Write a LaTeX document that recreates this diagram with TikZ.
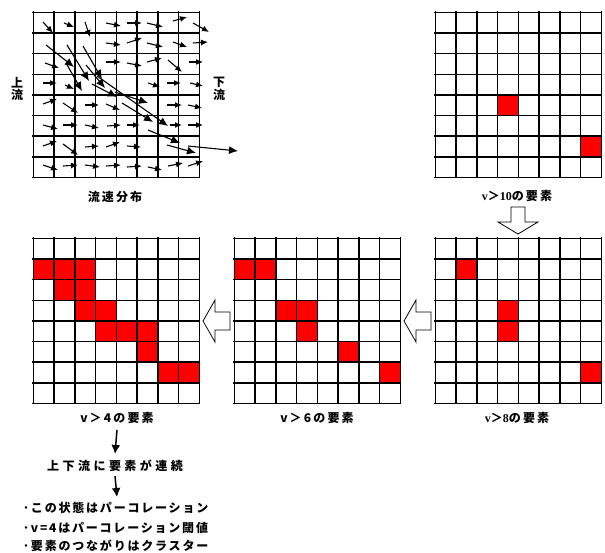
\documentclass[tikz,border=0pt]{standalone}
\usepackage{fontspec}
\setmainfont{Liberation Serif}
\newfontfamily\jp{Noto Sans CJK JP}
\usetikzlibrary{arrows.meta}
\newcommand\cellgrid[2]{%
  \foreach \i in {0,...,8} {%
    \draw[gridline] (#1+\i*20.75+0.3,#2) -- ++(0,165.2);
    \draw[gridline] (#1,#2+\i*20.65+0.3) -- ++(166,0);
  }}
\newcommand\redcells[3]{%
  \foreach \r/\c in {#3} {\fill[red] (#1+\c*20.75,#2+\r*20.65) rectangle ++(20.75,20.65);}}
\begin{document}
\begin{tikzpicture}[x=1pt,y=-1pt,
  gridline/.style={line width=1.5pt, black, line cap=rect},
  flow/.style={line width=1.1pt, -{Latex[length=7pt,width=6pt]}},
  flowlong/.style={line width=1.1pt, -{Latex[length=9pt,width=8pt]}},
  lbl/.style={font=\jp\bfseries\fontsize{12}{14}\selectfont\addfontfeature{LetterSpace=18}, inner sep=1pt},
  side/.style={font=\jp\bfseries\fontsize{12}{12.5}\selectfont, align=center, inner sep=0pt},
  block/.style={draw=black, line width=0.8pt, fill=white, line join=miter},
  smallarrow/.style={line width=1.5pt, -{Latex[length=9pt,width=9pt]}},
  frame/.style={minimum width=166pt, minimum height=165pt, inner sep=0pt, anchor=north west}
]
\useasboundingbox[fill=white] (0,0) rectangle (605,552);

% frames
\node[frame] (g1) at (33,12) {};
\node[frame] (g2) at (435,12) {};
\node[frame] (g3) at (33,238) {};
\node[frame] (g4) at (234,238) {};
\node[frame] (g5) at (435,238) {};

% red cells
\redcells{435}{12}{4/3,6/7}
\redcells{435}{238}{1/1,3/3,4/3,6/7}
\redcells{234}{238}{1/0,1/1,3/2,3/3,4/3,5/5,6/7}
\redcells{33}{238}{1/0,1/1,1/2,2/1,2/2,3/2,3/3,4/3,4/4,4/5,5/5,6/6,6/7}

% grids
\cellgrid{33}{12}
\cellgrid{435}{12}
\cellgrid{33}{238}
\cellgrid{234}{238}
\cellgrid{435}{238}

% flow field arrows
\foreach \a/\b/\c/\d in {
  43/22/53/33, 64/23/74/27, 85/22/90/37, 106/23/121/26, 127/23/142/23, 147/23/163/27, 173/21/187/17, 193/23/209/32,
  106/43/121/45, 127/43/142/38, 147/43/163/47, 173/42/187/47, 193/43/208/42,
  45/63/59/68, 106/62/121/62, 127/63/142/66, 147/62/162/58, 168/60/182/72, 189/62/203/62,
  43/83/57/83, 65/85/74/89, 148/83/160/87, 167/83/181/83, 190/83/203/86,
  43/104/57/99, 63/103/78/113, 85/105/99/105, 106/104/120/110, 167/105/182/105, 188/105/202/108,
  43/125/58/129, 63/125/78/125, 85/125/99/128, 107/126/121/125, 127/125/140/125, 170/125/182/125, 188/125/203/125,
  43/146/57/141, 63/144/78/155, 85/147/99/146, 106/147/120/142, 127/146/141/147,
  43/165/58/170, 63/166/78/165, 85/165/100/167, 106/166/121/165, 127/167/142/166, 148/167/162/170, 168/166/183/163, 188/166/203/161}
  {\draw[flow] (\a,\b) -- (\c,\d);}
\foreach \a/\b/\c/\d in {
  46/45/74/67, 67/45/89/81, 83/46/102/79, 66/63/82/91, 86/65/105/88,
  97/76/168/126, 92/84/117/97, 115/92/148/103, 122/103/153/122,
  148/130/180/143, 167/145/196/153, 188/146/238/151}
  {\draw[flowlong] (\a,\b) -- (\c,\d);}

% side labels
\node[side] (up) at (17,89) {上\\流};
\node[side] (down) at (219,89) {下\\流};

% labels
\node[lbl] (t1) at (115,197) {流速分布};
\node[lbl] (t2) at (517,196) {{\rmfamily v}＞{\rmfamily 10}の要素};
\node[lbl] (t5) at (517,418) {{\rmfamily v}＞{\rmfamily 8}の要素};
\node[lbl] (t4) at (317,418) {v＞6の要素};
\node[lbl] (t3) at (117,418) {v＞4の要素};

% block arrows
\draw[block] (511,207) -- (525,207) -- (525,222) -- (538,222) -- (518,234) -- (498,222) -- (511,222) -- cycle;
\draw[block] (431,312) -- (416,312) -- (416,300) -- (404,321) -- (416,342) -- (416,330) -- (431,330) -- cycle;
\draw[block] (230,312) -- (215,312) -- (215,300) -- (203,321) -- (215,342) -- (215,330) -- (230,330) -- cycle;

% bottom text
\node[lbl, font=\jp\bfseries\fontsize{12}{14}\selectfont\addfontfeature{LetterSpace=29}] (cont) at (115,466) {上下流に要素が連続};
\draw[smallarrow] ([yshift=-5pt]t3.south) -- ([yshift=5pt]cont.north);
\coordinate (b0) at (117,497);
\draw[smallarrow] ([yshift=-3pt]cont.south) -- (b0);
\begin{scope}[every node/.style={anchor=west, inner sep=0pt, font=\jp\bfseries\fontsize{12}{14}\selectfont\addfontfeature{LetterSpace=15}}]
\node (l1) at (23,508) {･この状態はパーコレーション};
\node (l2) at (23,528) {･v=4はパーコレーション閾値};
\node (l3) at (23,546) {･要素のつながりはクラスター};
\end{scope}
\end{tikzpicture}
\end{document}
